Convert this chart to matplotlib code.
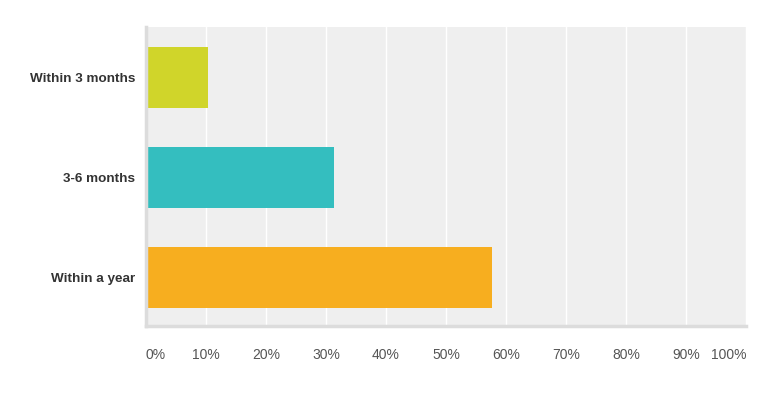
import matplotlib
matplotlib.use("Agg")
import matplotlib.pyplot as plt

categories = ["Within 3 months", "3-6 months", "Within a year"]
values = [10.3, 31.3, 57.7]
colors = ["#d0d52a", "#34bebf", "#f7ae1f"]
ticks = [0, 10, 20, 30, 40, 50, 60, 70, 80, 90, 100]
tick_labels = [f"{t}%" for t in ticks]

plt.rcParams['font.family'] = ['Liberation Sans', 'DejaVu Sans']

fig = plt.figure(figsize=(7.83, 4.10), dpi=100)
ax = fig.add_axes([146/783, 1-327/410, 600/783, 299/410])
ax.set_facecolor("#efefef")
ypos = list(range(len(categories)))
ax.barh(ypos, values, height=0.61, color=colors, zorder=3)
ax.set_xlim(0, 100)
ax.set_ylim(2.49, -0.5)
ax.set_xticks(ticks)
ax.set_xticklabels(tick_labels, fontsize=10, color="#555555")
for i, lab in enumerate(ax.get_xticklabels()):
    if i == 0:
        lab.set_horizontalalignment("left")
    elif i == len(ticks) - 1:
        lab.set_horizontalalignment("right")
ax.tick_params(axis="x", length=0, pad=15)
ax.set_yticks(ypos)
ax.set_yticklabels(categories, fontsize=9.7, fontweight="bold", color="#333333")
ax.tick_params(axis="y", length=0, pad=8)
ax.grid(axis="x", color="white", linewidth=1.0, zorder=1)
for s in ["top", "right"]:
    ax.spines[s].set_visible(False)
for s in ["left", "bottom"]:
    ax.spines[s].set_color("#dcdcdc")
    ax.spines[s].set_linewidth(2.5)
    ax.spines[s].set_zorder(4)

fig.savefig("out.png", dpi=100)
